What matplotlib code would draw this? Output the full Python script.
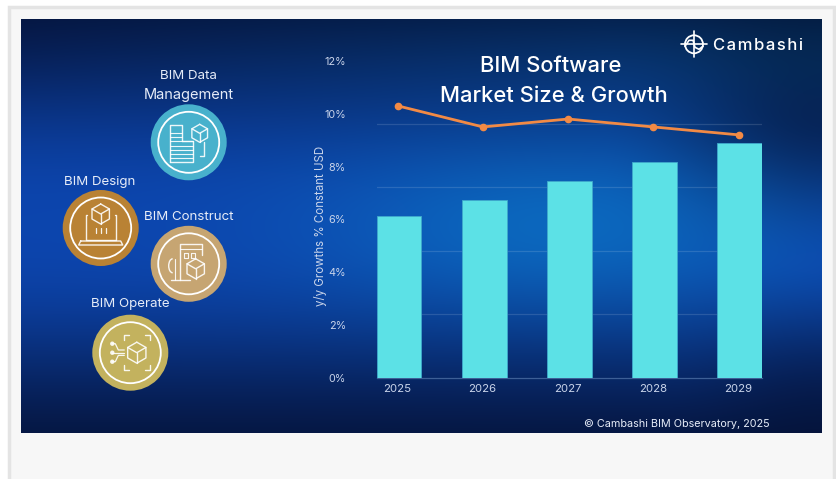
import numpy as np
import matplotlib
matplotlib.use('Agg')
import matplotlib.pyplot as plt
from matplotlib.patches import Circle, Rectangle, Arc

plt.rcParams['font.family'] = ['Inter', 'DejaVu Sans']

# data
years = ['2025', '2026', '2027', '2028', '2029']
market_size = [5.1, 5.6, 6.2, 6.8, 7.4]  # no scale shown, gridline step taken as 2
growth = [10.3, 9.5, 9.8, 9.5, 9.2]
growth_ticks = [0, 2, 4, 6, 8, 10, 12]
size_grid = [2, 4, 6, 8]

W, H = 836, 479
LABEL = '#c9d4ea'
TEXT = '#e6ecf8'

fig = plt.figure(figsize=(W / 100, H / 100), dpi=100, facecolor='white')

# page + background in pixel coords
bg = fig.add_axes([0, 0, 1, 1])
bg.set_xlim(0, W)
bg.set_ylim(H, 0)
bg.axis('off')
bg.add_patch(Rectangle((8.5, 6.5), 825, 480, fc='#f7f7f7', ec='#e4e4e4', lw=2.5))

# panel gradient
PX0, PX1, PY0, PY1 = 21, 822, 19, 433
uu, vv = np.meshgrid(np.linspace(0, 1, 400), np.linspace(0, 1, 220))


def ramp(a):
    a = np.clip(a, 0, 1)
    return a * a * (3 - 2 * a)


dark = np.array([0.016, 0.055, 0.18])
royal = np.array([0.05, 0.27, 0.68])
bright = np.array([0.045, 0.42, 0.75])
glow_v = np.exp(-np.abs((vv - 0.50) / 0.40) ** 2.4)
edge = 1 - 0.6 * ramp((uu - 0.72) / 0.28) * ramp((0.62 - vv) / 0.4) - 0.35 * ramp((uu - 0.8) / 0.2) * ramp((vv - 0.6) / 0.35)
t = np.clip(glow_v * edge, 0, 1)[..., None]
glow = np.exp(-((uu - 0.68) / 0.30) ** 2 - ((vv - 0.50) / 0.22) ** 2)[..., None]
img = dark + (royal - dark) * t + (bright - royal) * glow * 0.9
# greener tint near the top right
img = img + np.array([0.0, 0.07, 0.08]) * (np.exp(-((vv - 0.08) / 0.14) ** 2) * np.clip(uu * 1.2, 0, 1))[..., None]
bg.imshow(np.clip(img, 0, 1), extent=(PX0, PX1, PY1, PY0), aspect='auto', interpolation='bilinear', zorder=1)
bg.set_xlim(0, W)
bg.set_ylim(H, 0)


def poly(x0, y0, pts, lw=1.0, color='white', alpha=0.9):
    xs = [x0 + p[0] for p in pts]
    ys = [y0 + p[1] for p in pts]
    bg.plot(xs, ys, color=color, lw=lw, alpha=alpha, zorder=4, solid_capstyle='round')


def cube(x0, y0, r, lw=1.0):
    a, b = r * 0.87, r * 0.5
    poly(x0, y0, [(0, -r), (a, -b), (a, b), (0, r), (-a, b), (-a, -b), (0, -r)], lw)
    poly(x0, y0, [(-a, -b), (0, 0), (a, -b)], lw)
    poly(x0, y0, [(0, 0), (0, r)], lw)


def badge(cx, cy, color):
    bg.add_patch(Circle((cx, cy), 38, fc=color, ec='none', zorder=3))
    bg.add_patch(Circle((cx, cy), 30.5, fc='none', ec='white', lw=1.3, zorder=4))


# BIM Data Management
cx, cy = 188.7, 142.3
badge(cx, cy, '#48b1cc')
poly(cx, cy, [(-19, 20), (-19, -17), (-7, -17), (-7, -1)])
poly(cx, cy, [(-19, 20), (4, 20), (4, -1), (-7, -1)])
for dy in [-9, -5, -1, 4, 8, 12, 16]:
    poly(cx, cy, [(-19, dy), (-7 if dy < -1 else 4, dy)], lw=0.8)
cube(cx + 11, cy - 9, 9)
poly(cx, cy, [(15, 0), (15, 14), (11, 14)])

# BIM Design
cx, cy = 100.7, 228
badge(cx, cy, '#b98234')
cube(cx, cy - 14, 10)
poly(cx, cy, [(-14, -13), (-15, -13), (-15, 12), (15, 12), (15, -13), (14, -13)])
poly(cx, cy, [(-20, 13), (20, 13), (22, 17), (-22, 17), (-20, 13)])
for dx in [-5, 0, 5]:
    poly(cx, cy, [(dx, 0), (dx, 5)], lw=0.9)

# BIM Construct
cx, cy = 188.7, 263.8
badge(cx, cy, '#c6a572')
poly(cx, cy, [(-9, 16), (-9, -20), (13, -20), (13, -9)])
poly(cx, cy, [(-9, -15), (13, -15)], lw=0.8)
poly(cx, cy, [(-18, 16), (1, 16)])
poly(cx, cy, [(-5, -11), (-1, -11), (-1, -6), (-5, -6), (-5, -11)], lw=0.8)
poly(cx, cy, [(2, -11), (6, -11), (6, -6), (2, -6), (2, -11)], lw=0.8)
cube(cx + 7, cy + 5, 10)
bg.add_patch(Arc((cx - 16, cy + 2), 8, 14, theta1=90, theta2=270, ec='white', lw=1, alpha=0.9, zorder=4))
poly(cx, cy, [(-14, -5), (-14, 16)], lw=0.8)

# BIM Operate
cx, cy = 130.3, 352.7
badge(cx, cy, '#c3b25e')
cube(cx + 6.5, cy, 10.5)
for sx, sy in [(-1, -1), (1, -1), (-1, 1), (1, 1)]:
    xc, yc = 6.5 + sx * 13, sy * 17.5
    poly(cx, cy, [(xc - sx * 5, yc), (xc, yc), (xc, yc - sy * 5)], lw=1.0)
for dy, x_end in [(-9, -12), (0, -10), (9, -12)]:
    poly(cx, cy, [(-18, dy), (-15, dy), (x_end, dy * 0.3), (-6, dy * 0.3)], lw=0.9)
    bg.add_patch(Circle((cx - 18, cy + dy), 2.2, fc='white', ec='none', alpha=0.9, zorder=4))

# icon labels
bg.text(188.7, 75.5, 'BIM Data', color=TEXT, fontsize=9.6, ha='center', va='center', zorder=5)
bg.text(188.7, 94.5, 'Management', color=TEXT, fontsize=10.5, ha='center', va='center', zorder=5)
bg.text(99.5, 181.5, 'BIM Design', color=TEXT, fontsize=9.6, ha='center', va='center', zorder=5)
bg.text(188.7, 217.5, 'BIM Construct', color=TEXT, fontsize=9.6, ha='center', va='center', zorder=5)
bg.text(130.3, 304.5, 'BIM Operate', color=TEXT, fontsize=9.6, ha='center', va='center', zorder=5)

# logo
lx, ly = 694, 44.3
bg.add_patch(Circle((lx, ly), 9, fc='none', ec='white', lw=1.3, zorder=5))
poly(lx, ly, [(-13, 0), (13, 0)], lw=1.2, alpha=1)
poly(lx, ly, [(0, -13), (0, 13)], lw=1.2, alpha=1)
poly(lx, ly, [(-9, 2), (-5, -4), (-1, -4), (1, 3), (5, 5), (9, 2)], lw=1.2, alpha=1)
bg.text(713, 45, '\u200a'.join('Cambashi'), color='white', fontsize=12, fontweight='medium', ha='left', va='center', zorder=5)

# title and source
bg.text(550.5, 66, 'BIM Software', color='white', fontsize=15.8, fontweight='medium', ha='center', va='center', zorder=5)
bg.text(553.5, 95.5, 'Market Size & Growth', color='white', fontsize=15.8, fontweight='medium', ha='center', va='center', zorder=5)
bg.text(770, 424, '\u00a9 Cambashi BIM Observatory, 2025', color=TEXT, fontsize=7.8, ha='right', va='center', zorder=5)

# chart axes, pixel position of 0..12% and the bar span
left, right, y0, y12 = 376.6, 762.2, 377.5, 61
ax = fig.add_axes([left / W, 1 - y0 / H, (right - left) / W, (y0 - y12) / H])
ax.patch.set_alpha(0)
x = np.arange(len(years))
ax.bar(x, market_size, width=0.526, color='#5ce1e6', edgecolor='#3fa9cc', linewidth=0.6, zorder=3)
ax.set_xlim(-0.263, 4.263)
ax.set_ylim(0, (y0 - y12) / 31.75)
ax.set_yticks(size_grid)
ax.grid(axis='y', color='white', alpha=0.13, lw=0.9, zorder=1)
# labels sit slightly left of the bar centres, same as the line
ax.set_xticks(x - 0.02)
ax.set_xticklabels(years)
ax.tick_params(axis='x', length=0, pad=5, labelsize=8.2, labelcolor=LABEL)
for s in ['top', 'right', 'left']:
    ax.spines[s].set_visible(False)
ax.spines['bottom'].set_color('#3d5f96')
ax.spines['bottom'].set_linewidth(0.9)

ax2 = ax.twinx()
ax.tick_params(axis='y', left=False, right=False, labelleft=False, labelright=False)
ax2.patch.set_alpha(0)
ax2.plot(x - 0.015, growth, color='#f28a45', lw=2.0, marker='o', ms=4.5, zorder=5)
ax2.set_ylim(0, 12)
ax2.set_yticks(growth_ticks)
ax2.set_yticklabels([f'{v}%' for v in growth_ticks])
ax2.yaxis.set_ticks_position('left')
ax2.yaxis.set_label_position('left')
ax2.tick_params(axis='y', length=0, pad=22, labelsize=7.8, labelcolor=LABEL)
for s in ax2.spines.values():
    s.set_visible(False)
bg.text(320.5, 226, 'y/y Growths % Constant USD', color=LABEL, fontsize=8.3, rotation=90, ha='center', va='center', zorder=5)

fig.savefig('out.png', dpi=100, facecolor=fig.get_facecolor())
